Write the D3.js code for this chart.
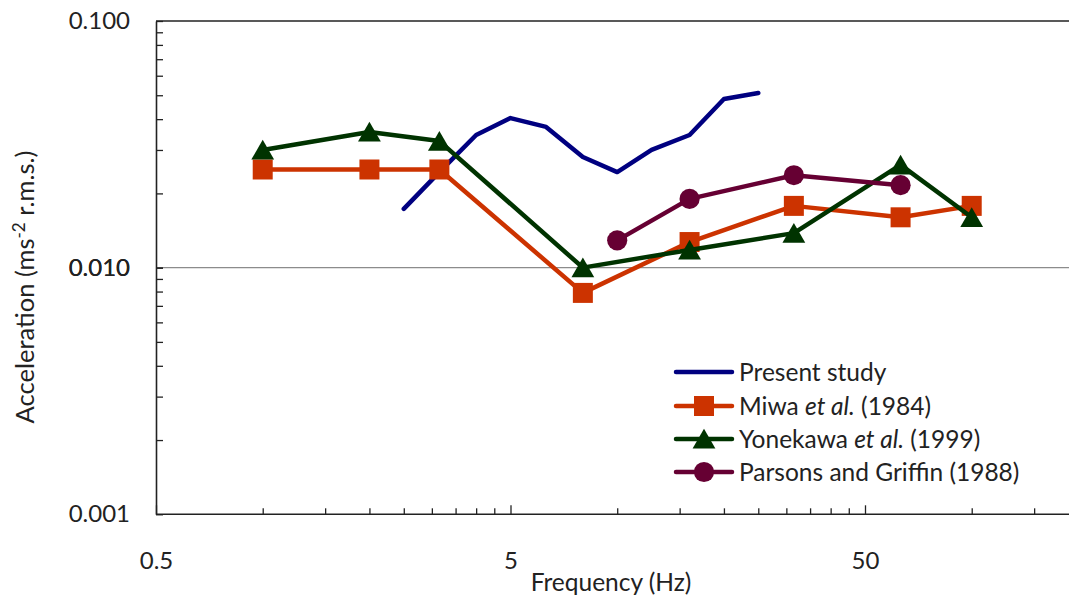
<!DOCTYPE html>
<html>
<head>
<meta charset="utf-8">
<script src="https://cdn.jsdelivr.net/npm/d3@7"></script>
<style>
  html, body { margin: 0; padding: 0; background: #fff; }
  svg { display: block; font-family: Lato, "Open Sans", sans-serif; }
</style>
</head>
<body>
<svg id="chart" width="1069" height="598"></svg>
<script>
// ---- data ----
const presentFreq = [2.5, 3.15, 4, 5, 6.3, 8, 10, 12.5, 16, 20, 25];
const presentAcc  = [0.0173, 0.0244, 0.0345, 0.0404, 0.0372, 0.0281, 0.0244, 0.0300, 0.0345, 0.0483, 0.0511];

const miwaFreq = [1, 2, 3.15, 8, 16, 31.5, 63, 100];
const miwaAcc  = [0.025, 0.025, 0.025, 0.0079, 0.0127, 0.0178, 0.0160, 0.0178];

const yoneFreq = [1, 2, 3.15, 8, 16, 31.5, 63, 100];
const yoneAcc  = [0.0300, 0.0355, 0.0326, 0.0100, 0.0118, 0.0138, 0.0261, 0.0160];

const parsFreq = [10, 16, 31.5, 63];
const parsAcc  = [0.0129, 0.0190, 0.0237, 0.0216];

const xMajorTicks = [0.5, 5, 50];
const xTickLabels = ["0.5", "5", "50"];
const yMajorTicks = [0.001, 0.01, 0.1];
const yTickLabels = ["0.001", "0.010", "0.100"];

const seriesNames = ["Present study", "Miwa", "Yonekawa", "Parsons and Griffin (1988)"];

// ---- layout ----
const svg = d3.select("#chart");
const W = 1069, H = 598;
const mLeft = 156, mTop = 21, mBottom = 514.3;
const decade = 354.5;

const x = d3.scaleLog().domain([0.5, 500]).range([mLeft, mLeft + 3 * decade]);
const y = d3.scaleLog().domain([0.001, 0.1]).range([mBottom, mTop]);

// minor tick values
const xTicks = [];
[0.5, 5, 50].forEach(b => { for (let n = 1; n <= 9; n++) xTicks.push(+(b * n).toPrecision(3)); });
const yTicks = [];
[0.001, 0.01].forEach(b => { for (let n = 1; n <= 10; n++) yTicks.push(+(b * n).toPrecision(3)); });

// gridline at 0.010
svg.append("line")
  .attr("x1", mLeft).attr("x2", W)
  .attr("y1", y(0.01)).attr("y2", y(0.01))
  .attr("stroke", "#8c8c8c").attr("stroke-width", 1.2);

// top border
svg.append("line")
  .attr("x1", mLeft).attr("x2", W)
  .attr("y1", y(0.1)).attr("y2", y(0.1))
  .attr("stroke", "#222").attr("stroke-width", 1.6);

// x axis
const xAxis = d3.axisBottom(x)
  .tickValues(xTicks)
  .tickSizeInner(-6).tickSizeOuter(0)
  .tickPadding(38)
  .tickFormat(d => {
    const i = xMajorTicks.findIndex(m => Math.abs(m - d) < 1e-9);
    return i >= 0 ? xTickLabels[i] : "";
  });
const gx = svg.append("g").attr("transform", `translate(0,${mBottom})`).call(xAxis);
gx.select(".domain").attr("stroke", "#222").attr("stroke-width", 1.6).attr("d", `M${mLeft},0H${W}`);
gx.selectAll(".tick line").attr("stroke", "#222").attr("stroke-width", 1.3)
  .attr("y2", d => xMajorTicks.some(m => Math.abs(m - d) < 1e-9) ? -9 : -6);
gx.selectAll(".tick text").attr("font-size", 24).attr("fill", "#222").attr("font-family", "Lato, sans-serif");

// y axis
const yAxis = d3.axisLeft(y)
  .tickValues(yTicks)
  .tickSizeInner(-7).tickSizeOuter(0)
  .tickPadding(26)
  .tickFormat(d => {
    const i = yMajorTicks.findIndex(m => Math.abs(m - d) < 1e-12);
    return i >= 0 ? yTickLabels[i] : "";
  });
const gy = svg.append("g").attr("transform", `translate(${mLeft},0)`).call(yAxis);
gy.select(".domain").attr("stroke", "#222").attr("stroke-width", 1.6);
gy.selectAll(".tick line").attr("stroke", "#222").attr("stroke-width", 1.3);
gy.selectAll(".tick text").attr("font-size", 24).attr("fill", "#222").attr("font-family", "Lato, sans-serif");

// axis titles
svg.append("text")
  .attr("x", 611).attr("y", 591)
  .attr("text-anchor", "middle")
  .attr("font-size", 24.5).attr("fill", "#222")
  .text("Frequency (Hz)");

const yt = svg.append("text")
  .attr("transform", "translate(34,287) rotate(-90)")
  .attr("text-anchor", "middle")
  .attr("font-size", 25.5).attr("fill", "#222");
yt.append("tspan").text("Acceleration (ms");
yt.append("tspan").attr("font-size", 17).attr("dy", -9).text("-2");
yt.append("tspan").attr("dy", 9).text(" r.m.s.)");

// ---- series ----
const colors = ["#000080", "#cc3300", "#003300", "#660033"];
const line = d3.line().x(d => x(d[0])).y(d => y(d[1]));
const zip = (a, b) => a.map((v, i) => [v, b[i]]);

const series = [
  { data: zip(presentFreq, presentAcc), color: colors[0], symbol: null },
  { data: zip(miwaFreq, miwaAcc), color: colors[1], symbol: d3.symbolSquare, size: 400, dy: 0 },
  { data: zip(yoneFreq, yoneAcc), color: colors[2], symbol: d3.symbolTriangle, size: 225, dy: 3 },
  { data: zip(parsFreq, parsAcc), color: colors[3], symbol: d3.symbolCircle, size: 320, dy: 0 }
];

const plot = svg.append("g");
series.forEach(s => {
  plot.append("path")
    .attr("d", line(s.data))
    .attr("fill", "none")
    .attr("stroke", s.color)
    .attr("stroke-width", 4.5)
    .attr("stroke-linejoin", "round")
    .attr("stroke-linecap", "round");
  if (s.symbol) {
    const sym = d3.symbol().type(s.symbol).size(s.size);
    plot.selectAll(null).data(s.data).enter().append("path")
      .attr("d", sym)
      .attr("transform", d => `translate(${x(d[0])},${y(d[1]) + s.dy})`)
      .attr("fill", s.color);
  }
});

// ---- legend ----
const legX = 676, legW = 56, legTextX = 739;
const legY = [372, 406, 439, 472];
const leg = svg.append("g");
series.forEach((s, i) => {
  leg.append("line")
    .attr("x1", legX).attr("x2", legX + legW)
    .attr("y1", legY[i]).attr("y2", legY[i])
    .attr("stroke", s.color).attr("stroke-width", 4.5).attr("stroke-linecap", "round");
  if (s.symbol) {
    leg.append("path")
      .attr("d", d3.symbol().type(s.symbol).size(s.size)())
      .attr("transform", `translate(${legX + legW / 2},${legY[i] + s.dy})`)
      .attr("fill", s.color);
  }
  const t = leg.append("text")
    .attr("x", legTextX).attr("y", legY[i] + 8.5)
    .attr("font-size", 24.5).attr("fill", "#222");
  if (i === 1) {
    t.append("tspan").text("Miwa ");
    t.append("tspan").attr("font-style", "italic").text("et al.");
    t.append("tspan").text(" (1984)");
  } else if (i === 2) {
    t.append("tspan").text("Yonekawa ");
    t.append("tspan").attr("font-style", "italic").text("et al.");
    t.append("tspan").text(" (1999)");
  } else {
    t.text(seriesNames[i]);
  }
});
</script>
</body>
</html>
